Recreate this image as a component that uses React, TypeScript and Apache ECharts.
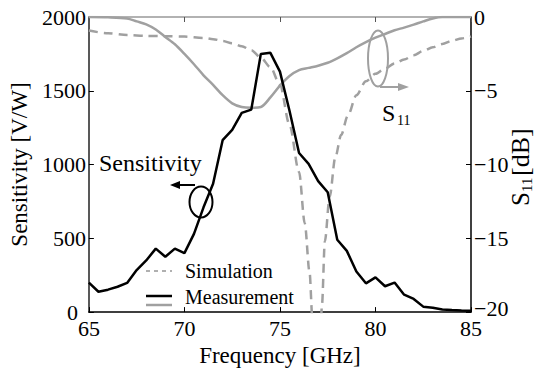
import React, { useEffect, useRef } from "react";
import * as echarts from "echarts";

// ---- data ----
const freqMeas = [65, 65.5, 66, 66.5, 67, 67.5, 68, 68.5, 69, 69.5, 70, 70.5, 71, 71.5, 72, 72.5, 73, 73.5, 74, 74.5, 75, 75.5, 76, 76.5, 77, 77.5, 78, 78.5, 79, 79.5, 80, 80.5, 81, 81.5, 82, 82.5, 83, 83.5, 84, 84.5, 85];
const sensitivity = [200, 138, 152, 172, 198, 285, 350, 430, 375, 430, 400, 530, 710, 870, 1165, 1235, 1350, 1372, 1750, 1757, 1630, 1365, 1078, 1005, 888, 812, 490, 415, 275, 195, 235, 175, 200, 118, 89, 37, 30, 18, 14, 11, 9];

const freqS11Meas = [65, 66, 67, 67.5, 68, 68.5, 69, 69.5, 70, 70.5, 71, 71.5, 72, 72.5, 73, 73.5, 74, 74.5, 75, 75.5, 76, 76.5, 77, 77.5, 78, 78.5, 79, 79.5, 80, 80.5, 81, 81.5, 82, 82.5, 83, 83.5, 84, 85];
const s11Meas = [0, -0.02, -0.1, -0.3, -0.5, -0.85, -1.35, -1.85, -2.5, -3.2, -3.95, -4.6, -5.3, -5.85, -6.1, -6.15, -6.1, -5.45, -4.65, -4.0, -3.6, -3.45, -3.3, -3.1, -2.8, -2.45, -2.05, -1.7, -1.4, -1.15, -0.9, -0.72, -0.52, -0.3, -0.1, 0, 0, 0];

const freqS11Sim = [65, 66, 67, 68, 69, 70, 71, 71.5, 72, 72.5, 73, 73.5, 74, 74.5, 75, 75.5, 76, 76.3, 76.55, 76.7, 76.9, 77.1, 77.2, 77.35, 77.6, 77.9, 78.2, 78.55, 79, 79.5, 80, 80.5, 81, 81.5, 82, 82.5, 83, 83.5, 84, 84.5, 85];
const s11Sim = [-0.92, -1.1, -1.22, -1.28, -1.3, -1.33, -1.42, -1.5, -1.62, -1.78, -1.98, -2.25, -2.75, -3.4, -4.6, -7.3, -10.5, -14.0, -17.3, -20.5, -24, -22, -19.5, -15.2, -12.2, -9.5, -8.0, -6.7, -5.3, -4.35, -3.85, -3.5, -3.15, -2.88, -2.6, -2.3, -2.05, -1.83, -1.62, -1.45, -1.32];

const xTicks = { min: 65, max: 85, interval: 5 };
const yLeft = { min: 0, max: 2000, interval: 500 };
const yRight = { min: -20, max: 0, interval: 5 };

const legendLabels = ["Simulation", "Measurement"];
const FONT = "Liberation Serif";
const GRAY = "#a0a0a0";

const zip = (xs: number[], ys: number[]) => xs.map((x, i) => [x, ys[i]]);

export default function App() {
  const ref = useRef<HTMLDivElement>(null);
  useEffect(() => {
    if (!ref.current) return;
    const chart = echarts.init(ref.current, undefined, { renderer: "svg" });
    const labelStyle = { fontFamily: FONT, fontSize: 22, color: "#000", lineHeight: 16 };
    const txt = (text: string, x: number, y: number, size: number, fill = "#000", align = "left") => ({
      type: "text",
      style: { text, x, y, fill, font: `${size}px "${FONT}"`, textAlign: align, align, textVerticalAlign: "middle", verticalAlign: "middle" },
    });
    chart.setOption({
      animation: false,
      grid: { left: 84, right: 66, top: 17, bottom: 56 },
      xAxis: [
        {
          type: "value", ...xTicks, position: "bottom",
          axisLine: { show: true, lineStyle: { color: "#000", width: 1.5 } },
          axisTick: { show: true, inside: true, length: 5, lineStyle: { color: "#000" } },
          axisLabel: { ...labelStyle, margin: 8, formatter: (v: number) => String(v) },
          splitLine: { show: false },
          name: "Frequency [GHz]", nameLocation: "middle", nameGap: 28,
          nameTextStyle: { fontFamily: FONT, fontSize: 23, color: "#000" },
        },
        {
          type: "value", ...xTicks, position: "top",
          axisLine: { show: true, lineStyle: { color: "#999", width: 1.5 } },
          axisTick: { show: true, inside: true, length: 5, lineStyle: { color: "#555" } },
          axisLabel: { show: false },
          splitLine: { show: false },
        },
      ],
      yAxis: [
        {
          type: "value", ...yLeft, position: "left",
          axisLine: { show: true, lineStyle: { color: "#222", width: 1.5 } },
          axisTick: { show: true, inside: true, length: 5, lineStyle: { color: "#000" } },
          axisLabel: {
            ...labelStyle, margin: 3,
            formatter: (v: number) => (v === 0 ? "{z|0}" : String(v)),
            rich: { z: { fontFamily: FONT, fontSize: 22, color: "#000", padding: [0, 8, 0, 0] } },
          },
          splitLine: { show: false },
          name: "Sensitivity [V/W]", nameLocation: "middle", nameRotate: 90, nameGap: 40,
          nameTextStyle: { fontFamily: FONT, fontSize: 23, color: "#000" },
        },
        {
          type: "value", ...yRight, position: "right",
          axisLine: { show: true, lineStyle: { color: "#000", width: 1.5 } },
          axisTick: { show: true, inside: true, length: 5, lineStyle: { color: "#000" } },
          axisLabel: {
            ...labelStyle, margin: 3,
            formatter: (v: number) => (v === -20 ? "{z|\u221220}" : String(v).replace("-", "\u2212")),
            rich: { z: { fontFamily: FONT, fontSize: 22, color: "#000", padding: [0, 0, 8, 0] } },
          },
          splitLine: { show: false },
        },
      ],
      series: [
        {
          type: "line", xAxisIndex: 0, yAxisIndex: 1, data: zip(freqS11Sim, s11Sim),
          showSymbol: false, smooth: 0.3, smoothMonotone: "x", clip: true,
          lineStyle: { color: GRAY, width: 2.5, type: [9, 6] },
        },
        {
          type: "line", xAxisIndex: 0, yAxisIndex: 1, data: zip(freqS11Meas, s11Meas),
          showSymbol: false, smooth: 0.3, clip: true,
          lineStyle: { color: GRAY, width: 2.5 },
        },
        {
          type: "line", xAxisIndex: 0, yAxisIndex: 0, data: zip(freqMeas, sensitivity),
          showSymbol: false, clip: true,
          lineStyle: { color: "#000", width: 2.5 },
        },
      ],
      graphic: [
        // legend
        { type: "line", shape: { x1: 146, y1: 271, x2: 172, y2: 271 }, style: { stroke: "#b0b0b0", lineWidth: 2, lineDash: [4, 4] } },
        { type: "line", shape: { x1: 146, y1: 296, x2: 172, y2: 296 }, style: { stroke: "#000", lineWidth: 2.5 } },
        { type: "line", shape: { x1: 146, y1: 305, x2: 172, y2: 305 }, style: { stroke: GRAY, lineWidth: 2.5 } },
        txt(legendLabels[0], 185, 271, 20),
        txt(legendLabels[1], 185, 297, 20),
        // Sensitivity annotation
        txt("Sensitivity", 99, 163, 24),
        { type: "ellipse", shape: { cx: 201, cy: 202, rx: 11.5, ry: 15.5 }, style: { fill: "none", stroke: "#000", lineWidth: 2 } },
        { type: "line", shape: { x1: 178, y1: 185, x2: 195, y2: 185 }, style: { stroke: "#000", lineWidth: 2 } },
        { type: "polygon", shape: { points: [[170, 185], [180, 181], [180, 189]] }, style: { fill: "#000" } },
        // S11 annotation
        { type: "ellipse", shape: { cx: 378, cy: 58.5, rx: 10, ry: 28 }, style: { fill: "none", stroke: GRAY, lineWidth: 2 } },
        { type: "line", shape: { x1: 380, y1: 87, x2: 400, y2: 87 }, style: { stroke: GRAY, lineWidth: 2 } },
        { type: "polygon", shape: { points: [[409, 87], [398, 83], [398, 91]] }, style: { fill: GRAY } },
        txt("S", 382, 113, 24),
        txt("11", 397, 120, 14),
        // right axis name
        {
          type: "group", x: 520, y: 164, rotation: Math.PI / 2,
          children: [
            txt("S", -42, 0, 25),
            txt("11", -28, 7, 15),
            txt("[dB]", -12, 0, 26),
          ],
        },
      ],
    });
    return () => chart.dispose();
  }, []);
  return <div ref={ref} style={{ width: 537, height: 372, position: "absolute", left: 0, top: 0 }} />;
}
